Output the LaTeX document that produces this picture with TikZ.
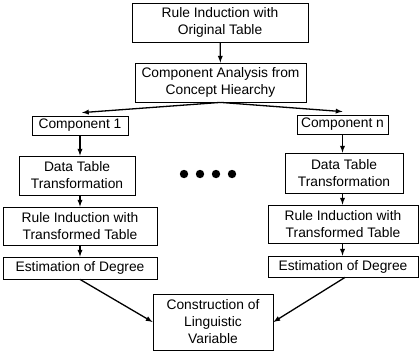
\documentclass[tikz,border=0pt]{standalone}
\usepackage{fontspec}
\setmainfont{Liberation Sans}

\begin{document}
\begin{tikzpicture}[x=1pt,y=-1pt,font=\fontsize{13.8}{17}\selectfont,
        caja/.style={draw, line width=0.8pt, inner sep=0pt, align=center},
        flecha/.style={-latex, line width=1.3pt}]
        \useasboundingbox (0,0) rectangle (419,354);

        % Cajas superiores
        \node[caja, minimum width=176, minimum height=39] (original) at (220,22.5) {Rule Induction with\\Original Table};
        \node[caja, minimum width=171, minimum height=39] (analisis) at (220.5,82.5) {Component Analysis from\\Concept Hiearchy};

        % Rama izquierda (componente 1)
        \node[caja, minimum width=96, minimum height=19] (comp1) at (80,125.5) {Component 1};
        \node[caja, minimum width=116, minimum height=39] (datos1) at (77,175.5) {Data Table\\Transformation};
        \node[caja, minimum width=154, minimum height=38] (reglas1) at (80,226) {Rule Induction with\\Transformed Table};
        \node[caja, minimum width=154, minimum height=22] (grado1) at (80,268) {Estimation of Degree};

        % Rama derecha (componente n)
        \node[caja, minimum width=91, minimum height=19] (compn) at (342.5,124.5) {Component n};
        \node[caja, minimum width=118, minimum height=40] (datosn) at (344,173) {Data Table\\Transformation};
        \node[caja, minimum width=150, minimum height=38] (reglasn) at (343,224) {Rule Induction with\\Transformed Table};
        \node[caja, minimum width=150, minimum height=21] (gradon) at (343,266.5) {Estimation of Degree};

        % Caja final
        \node[caja, minimum width=120, minimum height=56] (variable) at (213,322) {Construction of\\Linguistic\\Variable};

        % Puntos entre las ramas
        \foreach \x in {184,200,216,232}
            \fill (\x,174) circle (4.2);

        % Flechas
        \draw[flecha] (original) -- (analisis);
        \draw[flecha] (analisis.south) -- ([xshift=2pt,yshift=3pt]comp1.north);
        \draw[flecha] (analisis.south) -- ([yshift=3pt]compn.north);
        \draw[flecha] (comp1.south) -- (comp1.south |- datos1.north);
        \draw[flecha] (datos1.south -| comp1.south) -- (comp1.south |- reglas1.north);
        \draw[flecha] (reglas1) -- (grado1);
        \draw[flecha] (compn) -- (compn |- datosn.north);
        \draw[flecha] (compn |- datosn.south) -- (compn |- reglasn.north);
        \draw[flecha] (compn |- reglasn.south) -- (compn |- gradon.north);
        \draw[flecha] (grado1.south) -- (variable.west);
        \draw[flecha] ([xshift=2pt]gradon.south) -- (variable.east);
    \end{tikzpicture}
\end{document}
